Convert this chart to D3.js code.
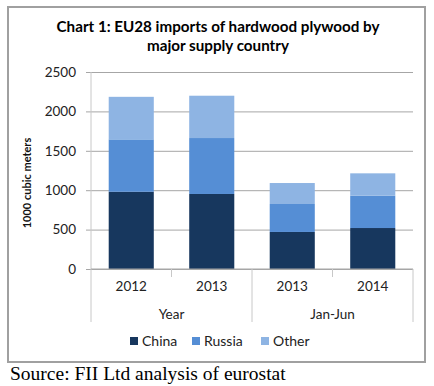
<!DOCTYPE html>
<html>
<head>
<meta charset="utf-8">
<script src="https://cdn.jsdelivr.net/npm/d3@7"></script>
<style>
  body { margin: 0; background: #fff; }
  svg { display: block; }
</style>
</head>
<body>
<svg id="chart" width="434" height="386"></svg>
<script>
// data (1000 m3)
const periods = ["2012", "2013", "2013", "2014"];
const groups = ["Year", "Jan-Jun"];
const china = [980, 952, 470, 520];
const russia = [665, 710, 355, 410];
const other = [540, 537, 266, 284];
const seriesNames = ["China", "Russia", "Other"];
const colors = ["#17375e", "#558ed5", "#8eb4e3"];
const yTicks = [0, 500, 1000, 1500, 2000, 2500];

const svg = d3.select("#chart");
const font = "Lato, 'Open Sans', sans-serif";

// outer frame
svg.append("rect")
  .attr("x", 8).attr("y", 7).attr("width", 417).attr("height", 355)
  .attr("fill", "none").attr("stroke", "#a0a0a0").attr("stroke-width", 2);

// title
svg.append("text").attr("x", 218).attr("y", 32)
  .attr("text-anchor", "middle").attr("font-family", font)
  .attr("font-weight", "bold").attr("font-size", 15.2)
  .text("Chart 1: EU28 imports of hardwood plywood by");
svg.append("text").attr("x", 218).attr("y", 51)
  .attr("text-anchor", "middle").attr("font-family", font)
  .attr("font-weight", "bold").attr("font-size", 15.2)
  .text("major supply country");

const x = d3.scaleBand().domain(d3.range(periods.length))
  .range([91, 413]).paddingInner(0.44).paddingOuter(0.22);
const y = d3.scaleLinear().domain([0, 2500]).range([269, 72]);

// gridlines + y labels
const yAxis = d3.axisLeft(y).tickValues(yTicks).tickFormat(d3.format("d"))
  .tickSize(-327).tickPadding(12);
const gy = svg.append("g").attr("transform", "translate(86,0)").call(yAxis);
gy.select(".domain").remove();
gy.selectAll(".tick line").attr("stroke", "#a6a6a6");
gy.selectAll(".tick text").attr("font-family", font).attr("font-size", 13.5)
  .attr("fill", "#222").attr("x", -10);

svg.append("line").attr("x1", 91).attr("x2", 91).attr("y1", 72).attr("y2", 269)
  .attr("stroke", "#c8c8c8");

// stacked bars
const rows = periods.map((p, i) => ({ i: i, China: china[i], Russia: russia[i], Other: other[i] }));
const stack = d3.stack().keys(seriesNames)(rows);
svg.append("g").selectAll("g").data(stack).join("g")
  .attr("fill", (d, k) => colors[k])
  .selectAll("rect").data(d => d).join("rect")
  .attr("x", d => x(d.data.i))
  .attr("width", x.bandwidth())
  .attr("y", d => y(d[1]))
  .attr("height", d => y(d[0]) - y(d[1]));

// x axis baseline and category ticks
svg.append("line").attr("x1", 91).attr("x2", 413).attr("y1", 269).attr("y2", 269)
  .attr("stroke", "#a6a6a6");
const step = x.step();
const bounds = d3.range(periods.length + 1).map(i => 91 + i * step);
svg.append("g").selectAll("line").data(bounds).join("line")
  .attr("x1", d => d).attr("x2", d => d)
  .attr("y1", 269).attr("y2", (d, i) => i % 2 === 0 ? 322 : 277)
  .attr("stroke", "#c8c8c8");

svg.append("g").selectAll("text").data(periods).join("text")
  .attr("x", (d, i) => x(i) + x.bandwidth() / 2).attr("y", 291)
  .attr("text-anchor", "middle").attr("font-family", font).attr("font-size", 13.5)
  .attr("fill", "#222").text(d => d);

svg.append("g").selectAll("text").data(groups).join("text")
  .attr("x", (d, i) => 91 + step * (2 * i + 1)).attr("y", 319)
  .attr("text-anchor", "middle").attr("font-family", font).attr("font-size", 13.5)
  .attr("fill", "#222").text(d => d);

// y axis title
svg.append("text")
  .attr("transform", "translate(31,183) rotate(-90)")
  .attr("text-anchor", "middle").attr("font-family", font)
  .attr("font-weight", "bold").attr("font-size", 11).attr("fill", "#111")
  .text("1000 cubic meters");

// legend
const legX = [130, 192, 261];
const leg = svg.append("g").selectAll("g").data(seriesNames).join("g")
  .attr("transform", (d, i) => `translate(${legX[i]},337)`);
leg.append("rect").attr("width", 8).attr("height", 8)
  .attr("fill", (d, i) => colors[i]);
leg.append("text").attr("x", 12).attr("y", 9)
  .attr("font-family", font).attr("font-size", 14).attr("fill", "#222")
  .text(d => d);

// source line
svg.append("text").attr("x", 10).attr("y", 380)
  .attr("font-family", "'Liberation Serif', serif").attr("font-size", 19.5)
  .attr("fill", "#000").text("Source: FII Ltd analysis of eurostat");
</script>
</body>
</html>
